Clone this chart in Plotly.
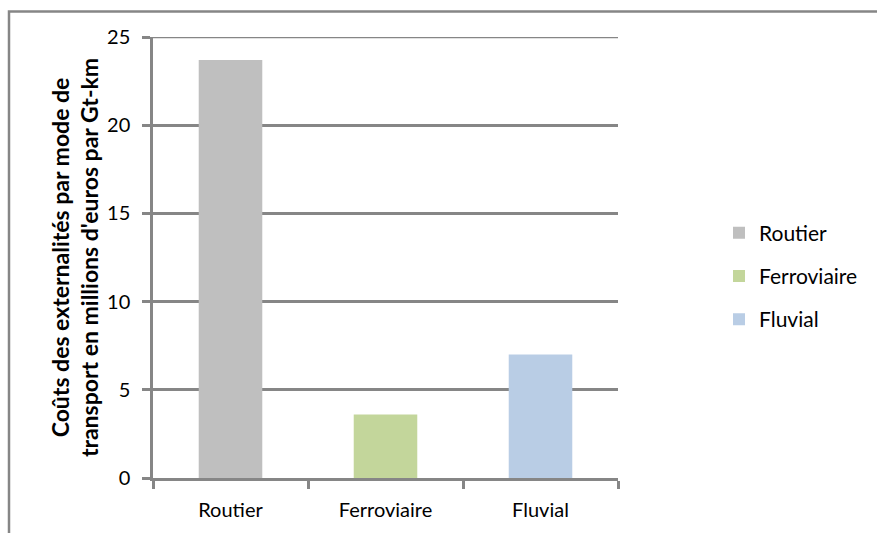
import plotly.graph_objects as go

# External costs per transport mode (millions of euros per Gt-km)
modes = ["Routier", "Ferroviaire", "Fluvial"]
costs = [23.7, 3.6, 7.0]
colors = ["#BFBFBF", "#C3D69B", "#B9CDE5"]
y_ticks = [0, 5, 10, 15, 20, 25]

FONT = "Lato, Carlito, Calibri, sans-serif"
GRID = "#868686"

W, H = 877, 533
L, R, T, B = 153, 259, 37, 55
pw, ph = W - L - R, H - T - B

fig = go.Figure()
for m, v, c in zip(modes, costs, colors):
    fig.add_trace(go.Bar(
        x=[m], y=[v], name=m, marker=dict(color=c, line=dict(width=0)),
        width=0.41, legendgroup=m,
    ))


def px_x(x):
    return (x - L) / pw


def px_y(y):
    return (H - B - y) / ph


# outer chart frame (top and left edges visible, the rest runs off the page)
fig.add_shape(type="rect", xref="paper", yref="paper",
              x0=px_x(9), x1=px_x(W + 20), y0=px_y(H + 20), y1=px_y(11.5),
              line=dict(color=GRID, width=2.5), layer="below")

# gridline at the top of the value range
fig.add_shape(type="line", xref="paper", yref="y",
              x0=px_x(L - 8), x1=1, y0=y_ticks[-1], y1=y_ticks[-1],
              line=dict(color=GRID, width=2.5), layer="below")

fig.update_layout(
    width=W, height=H,
    margin=dict(l=L, r=R, t=T, b=B, pad=0),
    paper_bgcolor="white", plot_bgcolor="white",
    barmode="overlay",
    font=dict(family=FONT, size=20, color="#000000"),
    showlegend=True,
    legend=dict(x=px_x(719), y=px_y(276), xanchor="left", yanchor="middle",
                font=dict(size=21), tracegroupgap=13, traceorder="grouped",
                bgcolor="rgba(0,0,0,0)"),
    xaxis=dict(
        categoryorder="array", categoryarray=modes,
        showline=True, linecolor=GRID, linewidth=2.5,
        ticks="outside", tickson="boundaries", ticklen=8, tickwidth=2.5,
        tickcolor=GRID, showgrid=False, tickfont=dict(size=20),
        ticklabelstandoff=12,
    ),
    yaxis=dict(
        range=[0, 25], tickvals=y_ticks,
        showline=True, linecolor=GRID, linewidth=2.5,
        ticks="outside", ticklen=8, tickwidth=2.5, tickcolor=GRID,
        showgrid=True, gridcolor=GRID, gridwidth=2.5,
        zeroline=False, tickfont=dict(size=20), ticklabelstandoff=8,
        title=dict(
            text="<b>Coûts des externalités par mode de<br>transport en millions d'euros par Gt-km</b>",
            font=dict(size=23), standoff=2,
        ),
    ),
)

fig.write_html("out.html")
